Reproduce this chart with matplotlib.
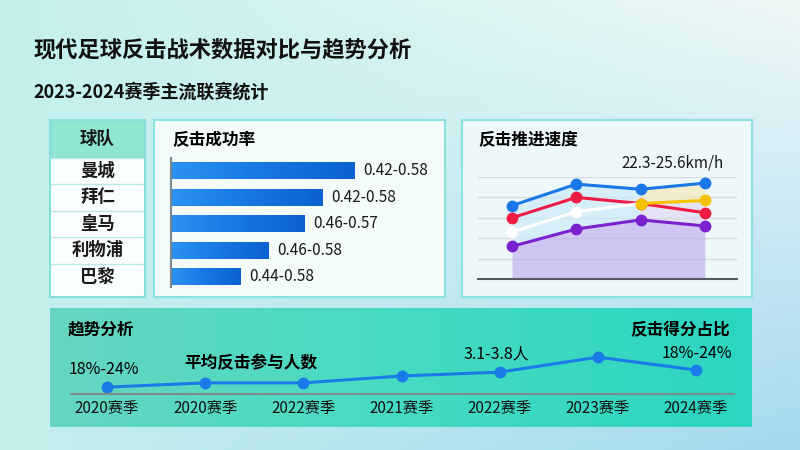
import numpy as np
import matplotlib.pyplot as plt
from matplotlib.patches import Rectangle
from matplotlib.colors import LinearSegmentedColormap, to_rgb

plt.rcParams['font.family'] = ['Noto Sans CJK SC', 'DejaVu Sans']

title = '现代足球反击战术数据对比与趋势分析'
subtitle = '2023-2024赛季主流联赛统计'

teams = ['曼城', '拜仁', '皇马', '利物浦', '巴黎']
success_score = [0.92, 0.76, 0.67, 0.49, 0.35]
success_range = ['0.42-0.58', '0.42-0.58', '0.46-0.57', '0.46-0.58', '0.44-0.58']

speed_x = [0, 1, 2, 3]
speed_blue = [23.6, 24.65, 24.4, 24.7]
speed_red = [23.0, 24.0, 23.7, 23.25]
speed_white = [22.3, 23.3, 23.7]
speed_yellow = [23.7, 23.85]
speed_purple = [21.6, 22.45, 22.9, 22.6]
speed_label = '22.3-25.6km/h'

seasons = ['2020赛季', '2020赛季', '2022赛季', '2021赛季', '2022赛季', '2023赛季', '2024赛季']
players = [3.1, 3.2, 3.2, 3.36, 3.45, 3.8, 3.5]

W, H = 800, 450


def box(x0, y0, x1, y1):
    return [x0 / W, 1 - y1 / H, (x1 - x0) / W, (y1 - y0) / H]


fig = plt.figure(figsize=(8, 4.5), dpi=100)

# background gradient
bg = fig.add_axes([0, 0, 1, 1])
bg.set_xlim(0, W)
bg.set_ylim(H, 0)
bg.axis('off')
tl, tr, bl, br = [np.array(to_rgb(c)) for c in ('#c2f0ed', '#eff8f7', '#c4f0ec', '#a4d9f0')]
u = np.linspace(0, 1, 200)[None, :, None]
v = np.linspace(0, 1, 120)[:, None, None]
grad = (1 - v) * ((1 - u) * tl + u * tr) + v * ((1 - u) * bl + u * br)
bg.imshow(grad, extent=[0, W, H, 0], aspect='auto', interpolation='bilinear', zorder=0)

bg.text(33, 50, title, fontsize=16, fontweight='bold', va='center', color='#111111')
bg.text(33, 92, subtitle, fontsize=13, fontweight='bold', va='center', color='#111111')

# panels
bg.add_patch(Rectangle((154, 120), 291, 177, fc='#f3fbfb', ec='#8ae3e0', lw=1.5, zorder=1))
bg.add_patch(Rectangle((462, 120), 290, 177, fc='#eef8fa', ec='#8ae3e0', lw=1.5, zorder=1))
bg.text(172, 140, '反击成功率', fontsize=12, fontweight='bold', va='center', zorder=3)
bg.text(478, 140, '反击推进速度', fontsize=12, fontweight='bold', va='center', zorder=3)
bg.text(673, 163, speed_label, fontsize=11, fontweight='medium', ha='center', va='center',
        zorder=3, color='#1a1a1a')

# bottom band
band = LinearSegmentedColormap.from_list('band', ['#66d6c0', '#45dbc2', '#2cd5c1'])
bg.imshow(np.linspace(0, 1, 100)[None, :], cmap=band, extent=[50, 752, 427, 308],
          aspect='auto', zorder=1)
bg.set_xlim(0, W)
bg.set_ylim(H, 0)
bg.text(68, 330, '趋势分析', fontsize=12, fontweight='bold', va='center', zorder=3)
bg.text(730, 330, '反击得分占比', fontsize=12, fontweight='bold', va='center', ha='right', zorder=3)
bg.text(104, 370, '18%-24%', fontsize=11.5, fontweight='medium', va='center', ha='center', zorder=3)
bg.text(251, 363, '平均反击参与人数', fontsize=12, fontweight='bold', va='center', ha='center', zorder=3)
bg.text(496, 354, '3.1-3.8人', fontsize=11.5, fontweight='medium', va='center', ha='center', zorder=3)
bg.text(697, 354, '18%-24%', fontsize=11.5, fontweight='medium', va='center', ha='center', zorder=3)

# team table
tb = fig.add_axes(box(50, 120, 145, 297))
tb.set_xlim(0, 1)
tb.set_ylim(5.26, -1.425)
tb.set_facecolor('#fbfefe')
tb.add_patch(Rectangle((0, -1.425), 1, 1.425, fc='#8ee6d3', ec='none'))
for i in range(5):
    tb.axhline(i, color='#b5ebe5', lw=1)
    tb.text(0.5, i + 0.5, teams[i], fontsize=12.5, fontweight='bold', ha='center', va='center', color='#1a1a1a')
tb.text(0.5, -0.7, '球队', fontsize=12.5, fontweight='bold', ha='center', va='center', color='#1a1a1a')
for s in tb.spines.values():
    s.set_color('#86dfd8')
    s.set_linewidth(1.5)
tb.set_xticks([])
tb.set_yticks([])

# success rate bars
ax = fig.add_axes(box(171, 120, 431, 297))
ax.patch.set_alpha(0)
ypos = np.arange(len(teams)) + 0.5
bars = ax.barh(ypos, success_score, height=0.64, color='#1a78e6')
bcmap = LinearSegmentedColormap.from_list('bar', ['#2c92f0', '#1777e4', '#0b62d2'])
for b in bars:
    x0, y0 = b.get_x(), b.get_y()
    im = ax.imshow(np.linspace(0, 1, 50)[None, :], cmap=bcmap, aspect='auto',
                   extent=[x0, x0 + b.get_width(), y0 + b.get_height(), y0], zorder=2)
    im.set_clip_path(b)
for y, val, lab in zip(ypos, success_score, success_range):
    ax.text(val + 0.04, y, lab, fontsize=11, fontweight='medium', va='center', ha='left', color='#1a1a1a')
ax.set_xlim(0, 1.3)
ax.set_ylim(5.26, -1.425)
for k in ('top', 'right', 'bottom'):
    ax.spines[k].set_visible(False)
ax.spines['left'].set_color('#7a8590')
ax.spines['left'].set_linewidth(1.5)
ax.spines['left'].set_bounds(0, 4.9)
ax.set_xticks([])
ax.set_yticks([])

# speed lines
sp = fig.add_axes(box(478, 177, 737, 279))
sp.patch.set_alpha(0)
sp.set_xlim(-0.53, 3.5)
sp.set_ylim(20, 25)
sp.fill_between(speed_x[:3], speed_blue[:3], speed_purple[:3], color='#cdeaf8', alpha=0.7, lw=0)
sp.fill_between(speed_x[2:], speed_blue[2:], speed_yellow, color='#f1ebc2', alpha=0.8, lw=0)
sp.fill_between(speed_x[2:], speed_yellow, speed_purple[2:], color='#dcd6f2', alpha=0.6, lw=0)
sp.fill_between(speed_x, speed_purple, 20, color='#bba6ef', alpha=0.6, lw=0)
kw = dict(lw=2.2, marker='o', ms=7.5, clip_on=False)
sp.plot(speed_x, speed_blue, color='#1a78e6', **kw)
sp.plot(speed_x, speed_red, color='#ee1c44', **kw)
sp.plot(speed_x[:3], speed_white, color='#ffffff', markevery=[0, 1], **kw)
sp.plot(speed_x[2:], speed_yellow, color='#f5c200', **kw)
sp.plot(speed_x, speed_purple, color='#7b22cf', **kw)
sp.set_yticks([21, 22, 23, 24, 25])
sp.set_xticks([])
sp.tick_params(left=False, labelleft=False)
sp.grid(axis='y', color='#d6dbdc', lw=1)
sp.set_axisbelow(True)
for k in ('top', 'right', 'left'):
    sp.spines[k].set_visible(False)
sp.spines['bottom'].set_color('#555b60')
sp.spines['bottom'].set_linewidth(1.5)

# trend line
tr_ax = fig.add_axes(box(71, 340, 734, 394))
tr_ax.patch.set_alpha(0)
xs = np.arange(len(seasons))
tr_ax.plot(xs, players, color='#1a7ae8', lw=2.2, marker='o', ms=7.5, clip_on=False)
tr_ax.set_xlim(-0.367, 6.387)
tr_ax.set_ylim(2.94, 4.2)
tr_ax.set_xticks(xs)
tr_ax.set_xticklabels(seasons, fontsize=11, fontweight='medium', color='#111111')
tr_ax.tick_params(axis='x', length=0, pad=4)
tr_ax.set_yticks([])
for k in ('top', 'right', 'left'):
    tr_ax.spines[k].set_visible(False)
tr_ax.spines['bottom'].set_color('#7f8c8c')
tr_ax.spines['bottom'].set_linewidth(1.5)

fig.savefig('out.png', dpi=100)
